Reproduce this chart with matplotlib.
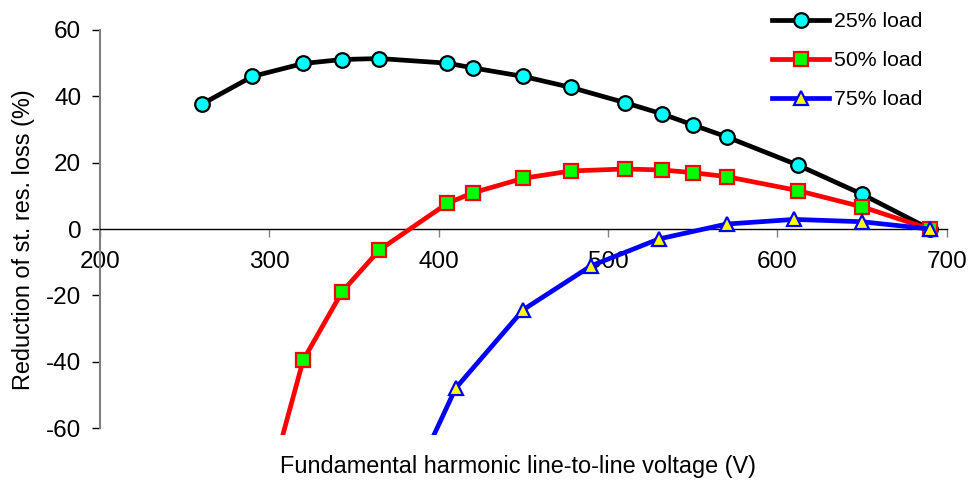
"""Reduction of stator resistive loss vs fundamental line-to-line voltage."""
import matplotlib
matplotlib.use("Agg")
import matplotlib.pyplot as plt

plt.rcParams.update({
    "font.family": ["Liberation Sans", "DejaVu Sans"],
    "font.size": 16.5,
    "axes.unicode_minus": False,
})

# ---- data ----
v_25 = [260, 290, 320, 343, 365, 405, 420, 450, 478, 510, 532, 550, 570, 612, 650, 690]
red_25 = [37.6, 46.0, 49.9, 51.1, 51.4, 50.0, 48.6, 46.0, 42.7, 38.1, 34.7, 31.4, 27.8, 19.3, 10.5, 0.0]

v_50 = [300, 320, 343, 365, 405, 420, 450, 478, 510, 532, 550, 570, 612, 650, 690]
red_50 = [-77.0, -39.5, -18.9, -6.3, 7.7, 10.9, 15.3, 17.5, 18.1, 17.8, 17.0, 15.8, 11.6, 6.7, 0.0]

v_75 = [390, 410, 450, 490, 530, 570, 610, 650, 690]
red_75 = [-70.0, -48.0, -24.3, -11.1, -3.0, 1.5, 2.9, 2.2, 0.0]

labels = ["25% load", "50% load", "75% load"]
x_ticks = [200, 300, 400, 500, 600, 700]
y_ticks = [-60, -40, -20, 0, 20, 40, 60]

fig = plt.figure(figsize=(9.68, 4.83), dpi=100)
ax = fig.add_axes([0.1033, 0.1, 0.8747, 0.8379])

ax.plot(v_25, red_25, "-o", color="black", lw=3.4, ms=10.5,
        mfc="#00FFFF", mec="black", mew=1.6, label=labels[0], zorder=3)
ax.plot(v_50, red_50, "-s", color="#FF0000", lw=3.4, ms=10,
        mfc="#00FF00", mec="#FF0000", mew=1.6, label=labels[1], zorder=3)
ax.plot(v_75, red_75, "-^", color="#0000FF", lw=3.4, ms=10,
        mfc="#FFFF00", mec="#0000FF", mew=1.6, label=labels[2], zorder=3)

ax.set_xlim(200, 700)
ax.set_ylim(-62, 60)
ax.set_xticks(x_ticks)
ax.set_yticks(y_ticks)

# spines: y axis gray at left, x axis at y=0
for side in ("top", "right"):
    ax.spines[side].set_visible(False)
ax.spines["bottom"].set_position(("data", 0))
ax.spines["bottom"].set_color("black")
ax.spines["bottom"].set_linewidth(1.0)
ax.spines["left"].set_color("#808080")
ax.spines["left"].set_linewidth(1.5)
ax.spines["left"].set_bounds(-60, 60)

ax.tick_params(axis="x", direction="out", length=5.5, width=1.0,
               color="#808080", pad=10.5, labelsize=17.5)
ax.tick_params(axis="y", direction="out", length=5.5, width=1.0,
               color="black", pad=8, labelsize=17.5)

fig.text(0.535, 0.035, "Fundamental harmonic line-to-line voltage (V)",
         ha="center", va="center", fontsize=16.9)
fig.text(0.024, 0.503, "Reduction of st. res. loss (%)",
         ha="center", va="center", rotation=90, fontsize=16.9)

ax.legend(loc="upper left", bbox_to_anchor=(772 / 968, 1 - 12 / 483),
          bbox_transform=fig.transFigure, frameon=False, borderpad=0,
          borderaxespad=0, handlelength=2.7, handletextpad=0.2,
          labelspacing=0.95, fontsize=15.3)

fig.savefig("out.png", dpi=100)
